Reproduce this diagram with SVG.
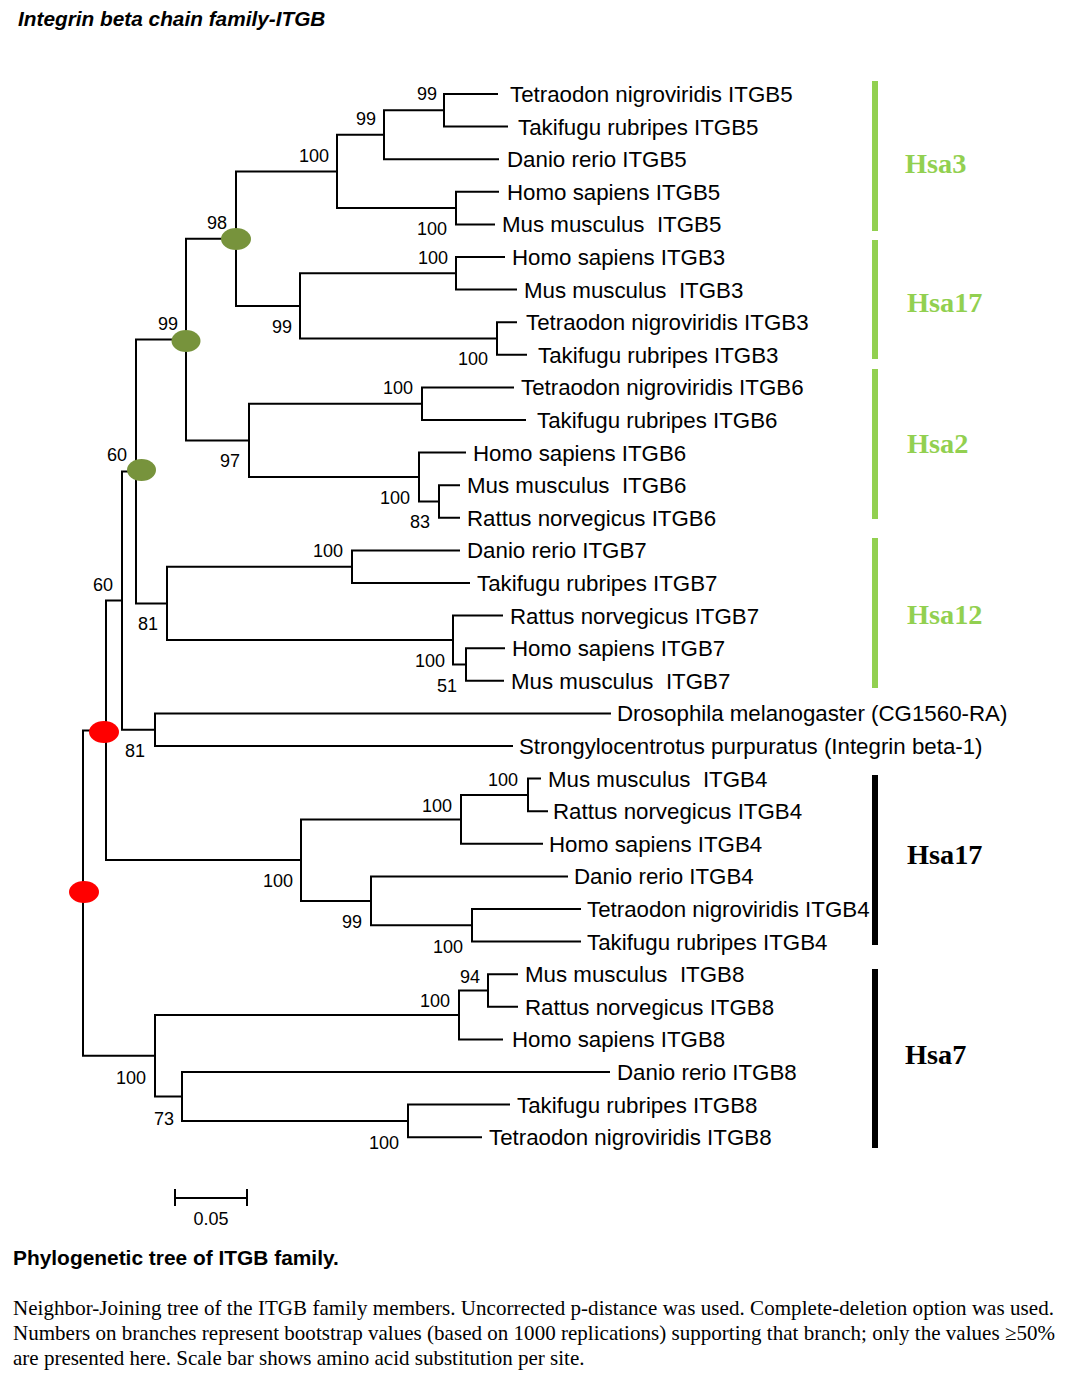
<svg xmlns="http://www.w3.org/2000/svg" width="1068" height="1383" viewBox="0 0 1068 1383">
<style>
.br{fill:none;stroke:#000;stroke-width:2;stroke-linejoin:miter}
.lf{font-family:"Liberation Sans",Arial,sans-serif;font-size:22.3px;fill:#000;white-space:pre}
.bs{font-family:"Liberation Sans",Arial,sans-serif;font-size:18px;fill:#000;text-anchor:end}
.gdot{fill:#77933c}
.rdot{fill:#ff0000}
.gbar{fill:#92d050}
.kbar{fill:#000}
.glab{font-family:"Liberation Serif","Times New Roman",serif;font-weight:bold;font-size:28.3px;fill:#92d050}
.klab{font-family:"Liberation Serif","Times New Roman",serif;font-weight:bold;font-size:28.3px;fill:#000}
.cap{font-family:"Liberation Serif","Times New Roman",serif;font-size:21px;fill:#000}
</style>
<rect x="0" y="0" width="1068" height="1383" fill="#fff"/>
<text x="18" y="26" font-family="Liberation Sans, Arial, sans-serif" font-size="20.8" font-weight="bold" font-style="italic">Integrin beta chain family-ITGB</text>

<g id="connectors">
<path class="br" d="M106 730.4 H83 V1055.7 H155"/>
<path class="br" d="M122 600.6 H106 V860.1 H301"/>
<path class="br" d="M136 471.5 H122 V729.7 H155"/>
<path class="br" d="M611 713.4 H155 V746 H513"/>
<path class="br" d="M186 339.5 H136 V603.4 H167"/>
<path class="br" d="M236 238.7 H186 V440.4 H249"/>
<path class="br" d="M337 171.5 H236 V305.9 H300"/>
<path class="br" d="M384 134.8 H337 V208.1 H456"/>
<path class="br" d="M444 110.3 H384 V159.2 H499"/>
<path class="br" d="M498 94 H444 V126.6 H508"/>
<path class="br" d="M499 191.8 H456 V224.4 H495"/>
<path class="br" d="M456 273.3 H300 V338.5 H497"/>
<path class="br" d="M505 257 H456 V289.6 H517"/>
<path class="br" d="M517 322.2 H497 V354.8 H527"/>
<path class="br" d="M422 403.7 H249 V477 H419"/>
<path class="br" d="M514 387.4 H422 V420 H526"/>
<path class="br" d="M466 452.6 H419 V501.5 H439"/>
<path class="br" d="M460 485.2 H439 V517.8 H460"/>
<path class="br" d="M352 566.7 H167 V640 H453"/>
<path class="br" d="M460 550.4 H352 V583 H470"/>
<path class="br" d="M503 615.6 H453 V664.5 H466"/>
<path class="br" d="M505 648.2 H466 V680.8 H504"/>
<path class="br" d="M461 819.4 H301 V900.9 H371"/>
<path class="br" d="M528 794.9 H461 V843.8 H543"/>
<path class="br" d="M541 778.6 H528 V811.2 H548"/>
<path class="br" d="M568 876.4 H371 V925.3 H472"/>
<path class="br" d="M581 909 H472 V941.6 H581"/>
<path class="br" d="M459 1015 H155 V1096.5 H182"/>
<path class="br" d="M488 990.5 H459 V1039.4 H503"/>
<path class="br" d="M518 974.2 H488 V1006.8 H518"/>
<path class="br" d="M610 1072 H182 V1120.9 H408"/>
<path class="br" d="M510 1104.6 H408 V1137.2 H482"/>
</g>

<g id="leaves">
<g id="leaf-tet5"><text class="lf" x="510" y="102">Tetraodon nigroviridis ITGB5</text></g>
<g id="leaf-tak5"><text class="lf" x="518" y="134.6">Takifugu rubripes ITGB5</text></g>
<g id="leaf-dan5"><text class="lf" x="507" y="167.2">Danio rerio ITGB5</text></g>
<g id="leaf-hom5"><text class="lf" x="507" y="199.8">Homo sapiens ITGB5</text></g>
<g id="leaf-mus5"><text class="lf" x="502" y="232.4">Mus musculus  ITGB5</text></g>
<g id="leaf-hom3"><text class="lf" x="512" y="265">Homo sapiens ITGB3</text></g>
<g id="leaf-mus3"><text class="lf" x="524" y="297.6">Mus musculus  ITGB3</text></g>
<g id="leaf-tet3"><text class="lf" x="526" y="330.2">Tetraodon nigroviridis ITGB3</text></g>
<g id="leaf-tak3"><text class="lf" x="538" y="362.8">Takifugu rubripes ITGB3</text></g>
<g id="leaf-tet6"><text class="lf" x="521" y="395.4">Tetraodon nigroviridis ITGB6</text></g>
<g id="leaf-tak6"><text class="lf" x="537" y="428">Takifugu rubripes ITGB6</text></g>
<g id="leaf-hom6"><text class="lf" x="473" y="460.6">Homo sapiens ITGB6</text></g>
<g id="leaf-mus6"><text class="lf" x="467" y="493.2">Mus musculus  ITGB6</text></g>
<g id="leaf-rat6"><text class="lf" x="467" y="525.8">Rattus norvegicus ITGB6</text></g>
<g id="leaf-dan7"><text class="lf" x="467" y="558.4">Danio rerio ITGB7</text></g>
<g id="leaf-tak7"><text class="lf" x="477" y="591">Takifugu rubripes ITGB7</text></g>
<g id="leaf-rat7"><text class="lf" x="510" y="623.6">Rattus norvegicus ITGB7</text></g>
<g id="leaf-hom7"><text class="lf" x="512" y="656.2">Homo sapiens ITGB7</text></g>
<g id="leaf-mus7"><text class="lf" x="511" y="688.8">Mus musculus  ITGB7</text></g>
<g id="leaf-dros"><text class="lf" x="617" y="721.4">Drosophila melanogaster (CG1560-RA)</text></g>
<g id="leaf-strong"><text class="lf" x="519" y="754">Strongylocentrotus purpuratus (Integrin beta-1)</text></g>
<g id="leaf-mus4"><text class="lf" x="548" y="786.6">Mus musculus  ITGB4</text></g>
<g id="leaf-rat4"><text class="lf" x="553" y="819.2">Rattus norvegicus ITGB4</text></g>
<g id="leaf-hom4"><text class="lf" x="549" y="851.8">Homo sapiens ITGB4</text></g>
<g id="leaf-dan4"><text class="lf" x="574" y="884.4">Danio rerio ITGB4</text></g>
<g id="leaf-tet4"><text class="lf" x="587" y="917">Tetraodon nigroviridis ITGB4</text></g>
<g id="leaf-tak4"><text class="lf" x="587" y="949.6">Takifugu rubripes ITGB4</text></g>
<g id="leaf-mus8"><text class="lf" x="525" y="982.2">Mus musculus  ITGB8</text></g>
<g id="leaf-rat8"><text class="lf" x="525" y="1014.8">Rattus norvegicus ITGB8</text></g>
<g id="leaf-hom8"><text class="lf" x="512" y="1047.4">Homo sapiens ITGB8</text></g>
<g id="leaf-dan8"><text class="lf" x="617" y="1080">Danio rerio ITGB8</text></g>
<g id="leaf-tak8"><text class="lf" x="517" y="1112.6">Takifugu rubripes ITGB8</text></g>
<g id="leaf-tet8"><text class="lf" x="489" y="1145.2">Tetraodon nigroviridis ITGB8</text></g>
</g>

<g id="internal-nodes">
<g id="node-A"><text class="bs" x="437" y="100">99</text></g>
<g id="node-B"><text class="bs" x="376" y="125">99</text></g>
<g id="node-C"><text class="bs" x="329" y="162">100</text></g>
<g id="node-D"><text class="bs" x="447" y="235">100</text></g>
<g id="node-E"><ellipse class="gdot" cx="236" cy="239" rx="15" ry="11"/><text class="bs" x="227" y="229">98</text></g>
<g id="node-G"><text class="bs" x="448" y="264">100</text></g>
<g id="node-F"><text class="bs" x="292" y="333">99</text></g>
<g id="node-I"><ellipse class="gdot" cx="186" cy="341" rx="14.5" ry="11"/><text class="bs" x="178" y="330">99</text></g>
<g id="node-H"><text class="bs" x="488" y="365">100</text></g>
<g id="node-K"><text class="bs" x="413" y="394">100</text></g>
<g id="node-J"><text class="bs" x="240" y="467">97</text></g>
<g id="node-N"><ellipse class="gdot" cx="141.5" cy="470" rx="14.5" ry="11"/><text class="bs" x="127" y="461">60</text></g>
<g id="node-L"><text class="bs" x="410" y="504">100</text></g>
<g id="node-M"><text class="bs" x="430" y="528">83</text></g>
<g id="node-P"><text class="bs" x="343" y="557">100</text></g>
<g id="node-S"><text class="bs" x="113" y="591">60</text></g>
<g id="node-O"><text class="bs" x="158" y="630">81</text></g>
<g id="node-Q"><text class="bs" x="445" y="667">100</text></g>
<g id="node-R"><text class="bs" x="457" y="692">51</text></g>
<g id="node-U"><ellipse class="rdot" cx="104" cy="732" rx="15" ry="11"/></g>
<g id="node-T"><text class="bs" x="145" y="757">81</text></g>
<g id="node-X"><text class="bs" x="518" y="786">100</text></g>
<g id="node-W"><text class="bs" x="452" y="812">100</text></g>
<g id="node-V"><text class="bs" x="293" y="887">100</text></g>
<g id="node-root"><ellipse class="rdot" cx="84" cy="892" rx="15" ry="11"/></g>
<g id="node-Y"><text class="bs" x="362" y="928">99</text></g>
<g id="node-Z"><text class="bs" x="463" y="953">100</text></g>
<g id="node-AC"><text class="bs" x="480" y="983">94</text></g>
<g id="node-AB"><text class="bs" x="450" y="1007">100</text></g>
<g id="node-AA"><text class="bs" x="146" y="1084">100</text></g>
<g id="node-AD"><text class="bs" x="174" y="1125">73</text></g>
<g id="node-AE"><text class="bs" x="399" y="1149">100</text></g>
</g>

<g id="clade-hsa3"><rect class="gbar" x="872" y="81" width="6" height="150"/><text class="glab" x="905" y="173">Hsa3</text></g>
<g id="clade-hsa17-green"><rect class="gbar" x="872" y="240" width="6" height="119"/><text class="glab" x="907" y="312">Hsa17</text></g>
<g id="clade-hsa2"><rect class="gbar" x="872" y="369" width="6" height="150"/><text class="glab" x="907" y="453">Hsa2</text></g>
<g id="clade-hsa12"><rect class="gbar" x="872" y="538" width="6" height="150"/><text class="glab" x="907" y="624">Hsa12</text></g>
<g id="clade-hsa17-black"><rect class="kbar" x="872" y="775" width="6" height="170"/><text class="klab" x="907" y="864">Hsa17</text></g>
<g id="clade-hsa7"><rect class="kbar" x="872" y="969" width="6" height="179"/><text class="klab" x="905" y="1064">Hsa7</text></g>

<g id="scale-bar">
<path class="br" d="M175 1189 V1206 M175 1198 H247 M247 1189 V1206"/>
<text x="211" y="1225" text-anchor="middle" font-family="Liberation Sans, Arial, sans-serif" font-size="18">0.05</text>
</g>

<g id="caption">
<text x="13" y="1265" font-family="Liberation Sans, Arial, sans-serif" font-size="20.9" font-weight="bold">Phylogenetic tree of ITGB family.</text>
<text class="cap" x="13" y="1315" textLength="1041" lengthAdjust="spacing">Neighbor-Joining tree of the ITGB family members. Uncorrected p-distance was used. Complete-deletion option was used.</text>
<text class="cap" x="13" y="1340" textLength="1042" lengthAdjust="spacing">Numbers on branches represent bootstrap values (based on 1000 replications) supporting that branch; only the values ≥50%</text>
<text class="cap" x="13" y="1365">are presented here. Scale bar shows amino acid substitution per site.</text>
</g>
</svg>
